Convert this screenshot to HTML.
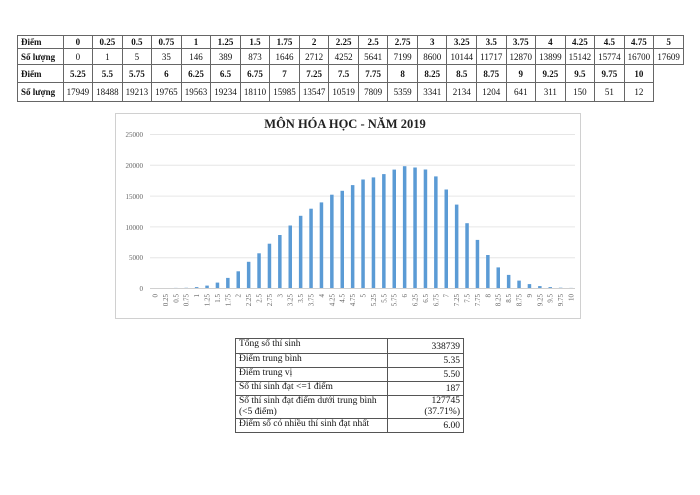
<!DOCTYPE html>
<html><head><meta charset="utf-8"><style>
body{margin:0;width:700px;height:495px;background:#fff;position:relative;overflow:hidden;font-family:"Liberation Serif",serif;}
table{border-collapse:collapse;table-layout:fixed;position:absolute;}
#t1{left:17px;top:35px;width:667px;font-size:9px;color:#111}
#t1 td{border:1px solid #666;text-align:center;padding:0;white-space:nowrap}
#t1 td.l{text-align:left;padding-left:3px;font-weight:bold}
#t1 tr.h td{font-weight:bold}
#t1 td.e{border:none}
#t2{left:235px;top:338px;width:228px;font-size:9.5px;color:#111}
#t2 td{border:1px solid #555;padding:0 3px;line-height:11px;vertical-align:top}
#t2 td.r{text-align:right;vertical-align:bottom}
</style></head><body>
<table id="t1">
<colgroup><col style="width:45px"><col span="21" style="width:29.2px"></colgroup>
<tr class="h" style="height:13px"><td class="l">Điểm</td><td>0</td><td>0.25</td><td>0.5</td><td>0.75</td><td>1</td><td>1.25</td><td>1.5</td><td>1.75</td><td>2</td><td>2.25</td><td>2.5</td><td>2.75</td><td>3</td><td>3.25</td><td>3.5</td><td>3.75</td><td>4</td><td>4.25</td><td>4.5</td><td>4.75</td><td>5</td></tr>
<tr style="height:16px"><td class="l">Số lượng</td><td>0</td><td>1</td><td>5</td><td>35</td><td>146</td><td>389</td><td>873</td><td>1646</td><td>2712</td><td>4252</td><td>5641</td><td>7199</td><td>8600</td><td>10144</td><td>11717</td><td>12870</td><td>13899</td><td>15142</td><td>15774</td><td>16700</td><td>17609</td></tr>
<tr class="h" style="height:18px"><td class="l">Điểm</td><td>5.25</td><td>5.5</td><td>5.75</td><td>6</td><td>6.25</td><td>6.5</td><td>6.75</td><td>7</td><td>7.25</td><td>7.5</td><td>7.75</td><td>8</td><td>8.25</td><td>8.5</td><td>8.75</td><td>9</td><td>9.25</td><td>9.5</td><td>9.75</td><td>10</td><td class="e"></td></tr>
<tr style="height:19px"><td class="l">Số lượng</td><td>17949</td><td>18488</td><td>19213</td><td>19765</td><td>19563</td><td>19234</td><td>18110</td><td>15985</td><td>13547</td><td>10519</td><td>7809</td><td>5359</td><td>3341</td><td>2134</td><td>1204</td><td>641</td><td>311</td><td>150</td><td>51</td><td>12</td><td class="e"></td></tr>
</table>

<svg width="700" height="495" style="position:absolute;left:0;top:0" font-family="Liberation Serif, serif">
<rect x="115.5" y="113.5" width="465" height="205" fill="#fff" stroke="#d0d0d0"/>
<text x="345" y="128" text-anchor="middle" font-size="12.5" font-weight="bold" fill="#222">MÔN HÓA HỌC - NĂM 2019</text>
<g stroke="#e6e6e6" stroke-width="1">
<line x1="150" x2="575" y1="134.5" y2="134.5"/><line x1="150" x2="575" y1="165.3" y2="165.3"/><line x1="150" x2="575" y1="196.1" y2="196.1"/><line x1="150" x2="575" y1="226.9" y2="226.9"/><line x1="150" x2="575" y1="257.7" y2="257.7"/>
</g>
<line x1="150" x2="575" y1="288.5" y2="288.5" stroke="#d0d0d0"/>
<g font-size="7" fill="#666" text-anchor="end">
<text x="143" y="137">25000</text><text x="143" y="168">20000</text><text x="143" y="199">15000</text><text x="143" y="230">10000</text><text x="143" y="260">5000</text><text x="143" y="291">0</text>
</g>
<g transform="translate(0,288) scale(1,-1)" fill="#5b9bd5">
<rect x="153.3" width="3.5" height="0"/><rect x="163.7" width="3.5" height="0"/><rect x="174.1" width="3.5" height="0.1"/><rect x="184.5" width="3.5" height="0.2"/><rect x="194.9" width="3.5" height="0.9"/><rect x="205.3" width="3.5" height="2.4"/><rect x="215.7" width="3.5" height="5.4"/><rect x="226.1" width="3.5" height="10.1"/><rect x="236.5" width="3.5" height="16.7"/><rect x="246.9" width="3.5" height="26.2"/><rect x="257.3" width="3.5" height="34.7"/><rect x="267.7" width="3.5" height="44.3"/><rect x="278.1" width="3.5" height="53"/><rect x="288.5" width="3.5" height="62.5"/><rect x="298.9" width="3.5" height="72.2"/><rect x="309.3" width="3.5" height="79.3"/><rect x="319.7" width="3.5" height="85.6"/><rect x="330.1" width="3.5" height="93.3"/><rect x="340.5" width="3.5" height="97.2"/><rect x="350.9" width="3.5" height="102.9"/><rect x="361.3" width="3.5" height="108.5"/><rect x="371.7" width="3.5" height="110.6"/><rect x="382.1" width="3.5" height="113.9"/><rect x="392.5" width="3.5" height="118.4"/><rect x="402.9" width="3.5" height="121.8"/><rect x="413.3" width="3.5" height="120.5"/><rect x="423.7" width="3.5" height="118.5"/><rect x="434.1" width="3.5" height="111.6"/><rect x="444.5" width="3.5" height="98.5"/><rect x="454.9" width="3.5" height="83.4"/><rect x="465.3" width="3.5" height="64.8"/><rect x="475.7" width="3.5" height="48.1"/><rect x="486.1" width="3.5" height="33"/><rect x="496.5" width="3.5" height="20.6"/><rect x="506.9" width="3.5" height="13.1"/><rect x="517.3" width="3.5" height="7.4"/><rect x="527.7" width="3.5" height="3.9"/><rect x="538.1" width="3.5" height="1.9"/><rect x="548.5" width="3.5" height="0.9"/><rect x="558.9" width="3.5" height="0.3"/><rect x="569.3" width="3.5" height="0.1"/>
</g>
<g font-size="7" fill="#666" text-anchor="end">
<text transform="translate(157.5,294) rotate(-90)">0</text><text transform="translate(167.9,294) rotate(-90)">0.25</text><text transform="translate(178.3,294) rotate(-90)">0.5</text><text transform="translate(188.7,294) rotate(-90)">0.75</text><text transform="translate(199.1,294) rotate(-90)">1</text><text transform="translate(209.5,294) rotate(-90)">1.25</text><text transform="translate(219.9,294) rotate(-90)">1.5</text><text transform="translate(230.3,294) rotate(-90)">1.75</text><text transform="translate(240.7,294) rotate(-90)">2</text><text transform="translate(251.1,294) rotate(-90)">2.25</text><text transform="translate(261.5,294) rotate(-90)">2.5</text><text transform="translate(271.9,294) rotate(-90)">2.75</text><text transform="translate(282.3,294) rotate(-90)">3</text><text transform="translate(292.7,294) rotate(-90)">3.25</text><text transform="translate(303.1,294) rotate(-90)">3.5</text><text transform="translate(313.5,294) rotate(-90)">3.75</text><text transform="translate(323.9,294) rotate(-90)">4</text><text transform="translate(334.3,294) rotate(-90)">4.25</text><text transform="translate(344.7,294) rotate(-90)">4.5</text><text transform="translate(355.1,294) rotate(-90)">4.75</text><text transform="translate(365.5,294) rotate(-90)">5</text><text transform="translate(375.9,294) rotate(-90)">5.25</text><text transform="translate(386.3,294) rotate(-90)">5.5</text><text transform="translate(396.7,294) rotate(-90)">5.75</text><text transform="translate(407.1,294) rotate(-90)">6</text><text transform="translate(417.5,294) rotate(-90)">6.25</text><text transform="translate(427.9,294) rotate(-90)">6.5</text><text transform="translate(438.3,294) rotate(-90)">6.75</text><text transform="translate(448.7,294) rotate(-90)">7</text><text transform="translate(459.1,294) rotate(-90)">7.25</text><text transform="translate(469.5,294) rotate(-90)">7.5</text><text transform="translate(479.9,294) rotate(-90)">7.75</text><text transform="translate(490.3,294) rotate(-90)">8</text><text transform="translate(500.7,294) rotate(-90)">8.25</text><text transform="translate(511.1,294) rotate(-90)">8.5</text><text transform="translate(521.5,294) rotate(-90)">8.75</text><text transform="translate(531.9,294) rotate(-90)">9</text><text transform="translate(542.3,294) rotate(-90)">9.25</text><text transform="translate(552.7,294) rotate(-90)">9.5</text><text transform="translate(563.1,294) rotate(-90)">9.75</text><text transform="translate(573.5,294) rotate(-90)">10</text>
</g>
</svg>

<table id="t2">
<colgroup><col style="width:152px"><col style="width:76px"></colgroup>
<tr style="height:15px"><td>Tổng số thí sinh</td><td class="r">338739</td></tr>
<tr style="height:14px"><td>Điểm trung bình</td><td class="r">5.35</td></tr>
<tr style="height:14px"><td>Điểm trung vị</td><td class="r">5.50</td></tr>
<tr style="height:14px"><td>Số thí sinh đạt &lt;=1 điểm</td><td class="r">187</td></tr>
<tr style="height:21px"><td>Số thí sinh đạt điểm dưới trung bình (&lt;5 điểm)</td><td class="r">127745<br>(37.71%)</td></tr>
<tr style="height:14px"><td>Điểm số có nhiều thí sinh đạt nhất</td><td class="r">6.00</td></tr>
</table>
</body></html>
